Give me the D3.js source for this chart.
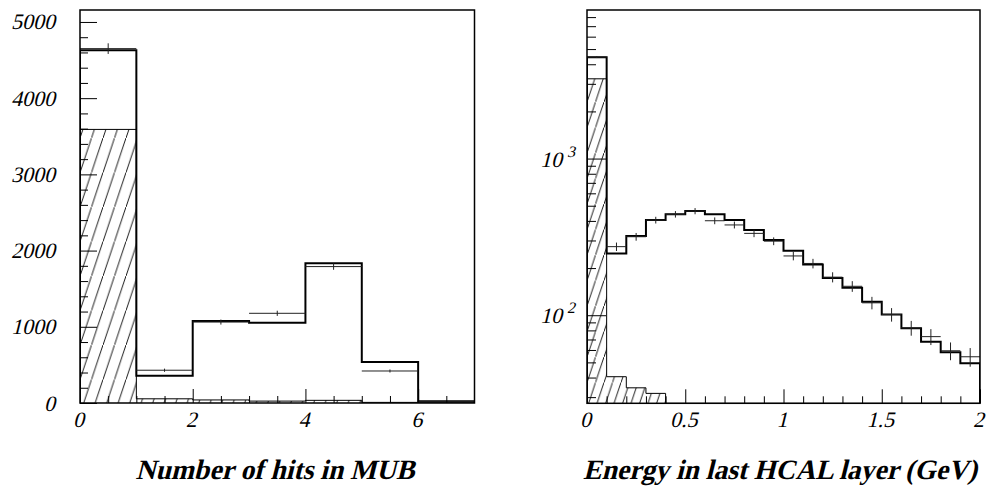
<!DOCTYPE html>
<html>
<head>
<meta charset="utf-8">
<script src="https://cdn.jsdelivr.net/npm/d3@7"></script>
<style>
  body { margin: 0; background: #fff; }
</style>
</head>
<body>
<svg id="chart" width="988" height="495"></svg>
<script>
// ---------------- left panel: number of hits in MUB ----------------
const hitBins = [0, 1, 2, 3, 4, 5, 6];          // lower bin edges
const hitBinWidth = 1;
const hitsMC = [4630, 358, 1075, 1053, 1833, 538, 22];
const hitsBkg = [3590, 55, 40, 25, 35, 8, 3];
const hitsData = [4650, 430, 1062, 1177, 1790, 420, 18];
const hitsErr = [70, 21, 33, 34, 42, 20, 4];
const hitsXTicks = [0, 2, 4, 6];
const hitsYTicks = [0, 1000, 2000, 3000, 4000, 5000];

// ---------------- right panel: energy in last HCAL layer ----------------
const eBins = [0, 0.1, 0.2, 0.3, 0.4, 0.5, 0.6, 0.7, 0.8, 0.9,
               1.0, 1.1, 1.2, 1.3, 1.4, 1.5, 1.6, 1.7, 1.8, 1.9];
const eBinWidth = 0.1;
const eMC = [4430, 248, 321, 405, 441, 462, 441, 405, 350, 302,
             258, 211, 173, 150, 122, 101, 82.5, 67.7, 58, 49.3];
const eBkg = [3230, 40.5, 34.4, 31.7, null, null, null, null, null, null,
              null, null, null, null, null, null, null, null, null, null];
const eData = [4450, 274, 317, 405, 441, 462, 401, 377, 333, 297,
               239, 214, 175, 153, 120, 101, 83, 73, 59.3, 54.3];
const eErr = [67, 17, 18, 20, 21, 21, 20, 19, 18, 17,
              15, 15, 13, 12, 11, 10, 9, 8.5, 7.7, 7.4];
const eXTicks = [0, 0.5, 1, 1.5, 2];
const eXLabels = ["0", "0.5", "1", "1.5", "2"];
const eDecades = [100, 1000];

const titles = ["Number of hits in MUB", "Energy in last HCAL layer (GeV)"];

const svg = d3.select("#chart");
const defs = svg.append("defs");

// Times-like italic text (slant applied by hand so it shows even without an italic face)
function label(g, x, y, str, size, anchor) {
    return g.append("text")
        .attr("transform", `translate(${x},${y}) skewX(-14)`)
        .attr("text-anchor", anchor || "start")
        .attr("font-family", "Liberation Serif, Times New Roman, serif")
        .attr("font-size", size)
        .attr("fill", "#000")
        .text(str);
}

// hatch pattern: "/" lines, slope 3
function hatch(id, period, x0) {
    const h = period * 3;
    const p = defs.append("pattern")
        .attr("id", id)
        .attr("patternUnits", "userSpaceOnUse")
        .attr("x", x0).attr("y", 0)
        .attr("width", period).attr("height", h);
    p.append("path")
        .attr("d", `M-1,${h + 3}L${period + 1},-3`)
        .attr("stroke", "#000").attr("stroke-width", 0.9).attr("fill", "none");
}

// step outline of a histogram, closed down to the base value
function stepPath(bins, w, vals, x, y, base) {
    const pts = [[x(bins[0]), y(base)]];
    bins.forEach((b, i) => {
        const v = vals[i] == null ? base : vals[i];
        pts.push([x(b), y(v)], [x(b + w), y(v)]);
    });
    pts.push([x(bins[bins.length - 1] + w), y(base)]);
    return d3.line()(pts);
}

function panel(cfg) {
    const { x, y, id } = cfg;
    const [x0, x1] = x.range();
    const [yb, yt] = y.range();
    const base = y.domain()[0];
    const g = svg.append("g");

    defs.append("clipPath").attr("id", "clip" + id)
        .append("rect").attr("x", x0).attr("y", yt).attr("width", x1 - x0).attr("height", yb - yt);
    const plot = g.append("g").attr("clip-path", `url(#clip${id})`);

    // hatched background histogram
    hatch("hatch" + id, cfg.hatchPeriod, x0);
    plot.append("path")
        .attr("d", stepPath(cfg.bins, cfg.bw, cfg.bkg, x, y, base))
        .attr("fill", `url(#hatch${id})`)
        .attr("stroke", "#000").attr("stroke-width", 1);

    // MC histogram
    plot.append("path")
        .attr("d", stepPath(cfg.bins, cfg.bw, cfg.mc, x, y, base))
        .attr("fill", "none")
        .attr("stroke", "#000").attr("stroke-width", 2);

    // data points with error bars
    const pts = plot.append("g").attr("stroke", "#222").attr("stroke-width", 1);
    cfg.bins.forEach((b, i) => {
        const v = cfg.data[i], e = cfg.err[i];
        pts.append("line")
            .attr("x1", x(b)).attr("x2", x(b + cfg.bw))
            .attr("y1", y(v)).attr("y2", y(v));
        pts.append("line")
            .attr("x1", x(b + cfg.bw / 2)).attr("x2", x(b + cfg.bw / 2))
            .attr("y1", y(v - e)).attr("y2", y(v + e));
    });

    // ticks (pointing inward), labels drawn separately
    const ax = g.append("g").attr("stroke-width", 1);
    ax.append("g").attr("transform", `translate(0,${yb})`)
        .call(d3.axisBottom(x).tickValues(cfg.xMinor).tickSize(-7).tickFormat(""));
    ax.append("g").attr("transform", `translate(0,${yb})`)
        .call(d3.axisBottom(x).tickValues(cfg.xTicks).tickSize(-14).tickFormat(""));
    ax.append("g").attr("transform", `translate(${x0},0)`)
        .call(d3.axisLeft(y).tickValues(cfg.yMinor).tickSize(-cfg.yMinorLen).tickFormat(""));
    ax.append("g").attr("transform", `translate(${x0},0)`)
        .call(d3.axisLeft(y).tickValues(cfg.yTicks).tickSize(-cfg.yMajorLen).tickFormat(""));
    ax.selectAll(".domain").remove();
    ax.selectAll(".tick line").attr("stroke", "#000");

    cfg.xTicks.forEach((t, i) => label(g, x(t) - 1.5, 427, cfg.xLabels[i], 22, "middle"));
    if (cfg.yLabels) cfg.yTicks.forEach(t => label(g, 55, y(t) + 7.5, String(t), 22, "end"));

    // frame
    g.append("rect")
        .attr("x", x0).attr("y", yt).attr("width", x1 - x0).attr("height", yb - yt)
        .attr("fill", "none").attr("stroke", "#000").attr("stroke-width", 1.5);

    // axis title
    label(g, cfg.titleX, 479, cfg.title, 28, "middle")
        .attr("font-weight", "bold")
        .attr("textLength", cfg.titleWidth)
        .attr("lengthAdjust", "spacingAndGlyphs");
    return g;
}

// left panel scales
const xH = d3.scaleLinear().domain([0, 7]).range([80, 474.5]);
const yH = d3.scaleLinear().domain([0, 5157]).range([403, 10]);
panel({
    id: "H", x: xH, y: yH,
    bins: hitBins, bw: hitBinWidth, mc: hitsMC, bkg: hitsBkg, data: hitsData, err: hitsErr,
    hatchPeriod: 11.5,
    xTicks: hitsXTicks, xLabels: hitsXTicks.map(String),
    xMinor: d3.range(0.5, 7, 0.5).filter(v => !hitsXTicks.includes(v)),
    yTicks: hitsYTicks, yLabels: true, yMajorLen: 17,
    yMinor: d3.range(200, 5157, 200).filter(v => v % 1000 !== 0), yMinorLen: 8,
    title: titles[0], titleX: 275, titleWidth: 279
});

// right panel scales (log)
const xE = d3.scaleLinear().domain([0, 2]).range([587, 980]);
const yE = d3.scaleLog().domain([27.4, 8880]).range([403.3, 10]);
const eMinor = [];
[10, 100, 1000].forEach(dec => {
    for (let k = 2; k <= 9; k++) {
        const v = k * dec;
        if (v > yE.domain()[0] && v < yE.domain()[1]) eMinor.push(v);
    }
});
const gE = panel({
    id: "E", x: xE, y: yE,
    bins: eBins, bw: eBinWidth, mc: eMC, bkg: eBkg, data: eData, err: eErr,
    hatchPeriod: 8.5,
    xTicks: eXTicks, xLabels: eXLabels,
    xMinor: d3.range(0.1, 2, 0.1).filter(v => Math.abs(v * 2 - Math.round(v * 2)) > 1e-6),
    yTicks: eDecades, yLabels: false, yMajorLen: 19,
    yMinor: eMinor, yMinorLen: 9,
    title: titles[1], titleX: 780, titleWidth: 394
});

// 10^n labels
eDecades.forEach(d => {
    const ty = yE(d);
    label(gE, 562, ty + 8, "10", 22, "end");
    label(gE, 567, ty - 2, String(Math.round(Math.log10(d))), 16, "start");
});
</script>
</body>
</html>
